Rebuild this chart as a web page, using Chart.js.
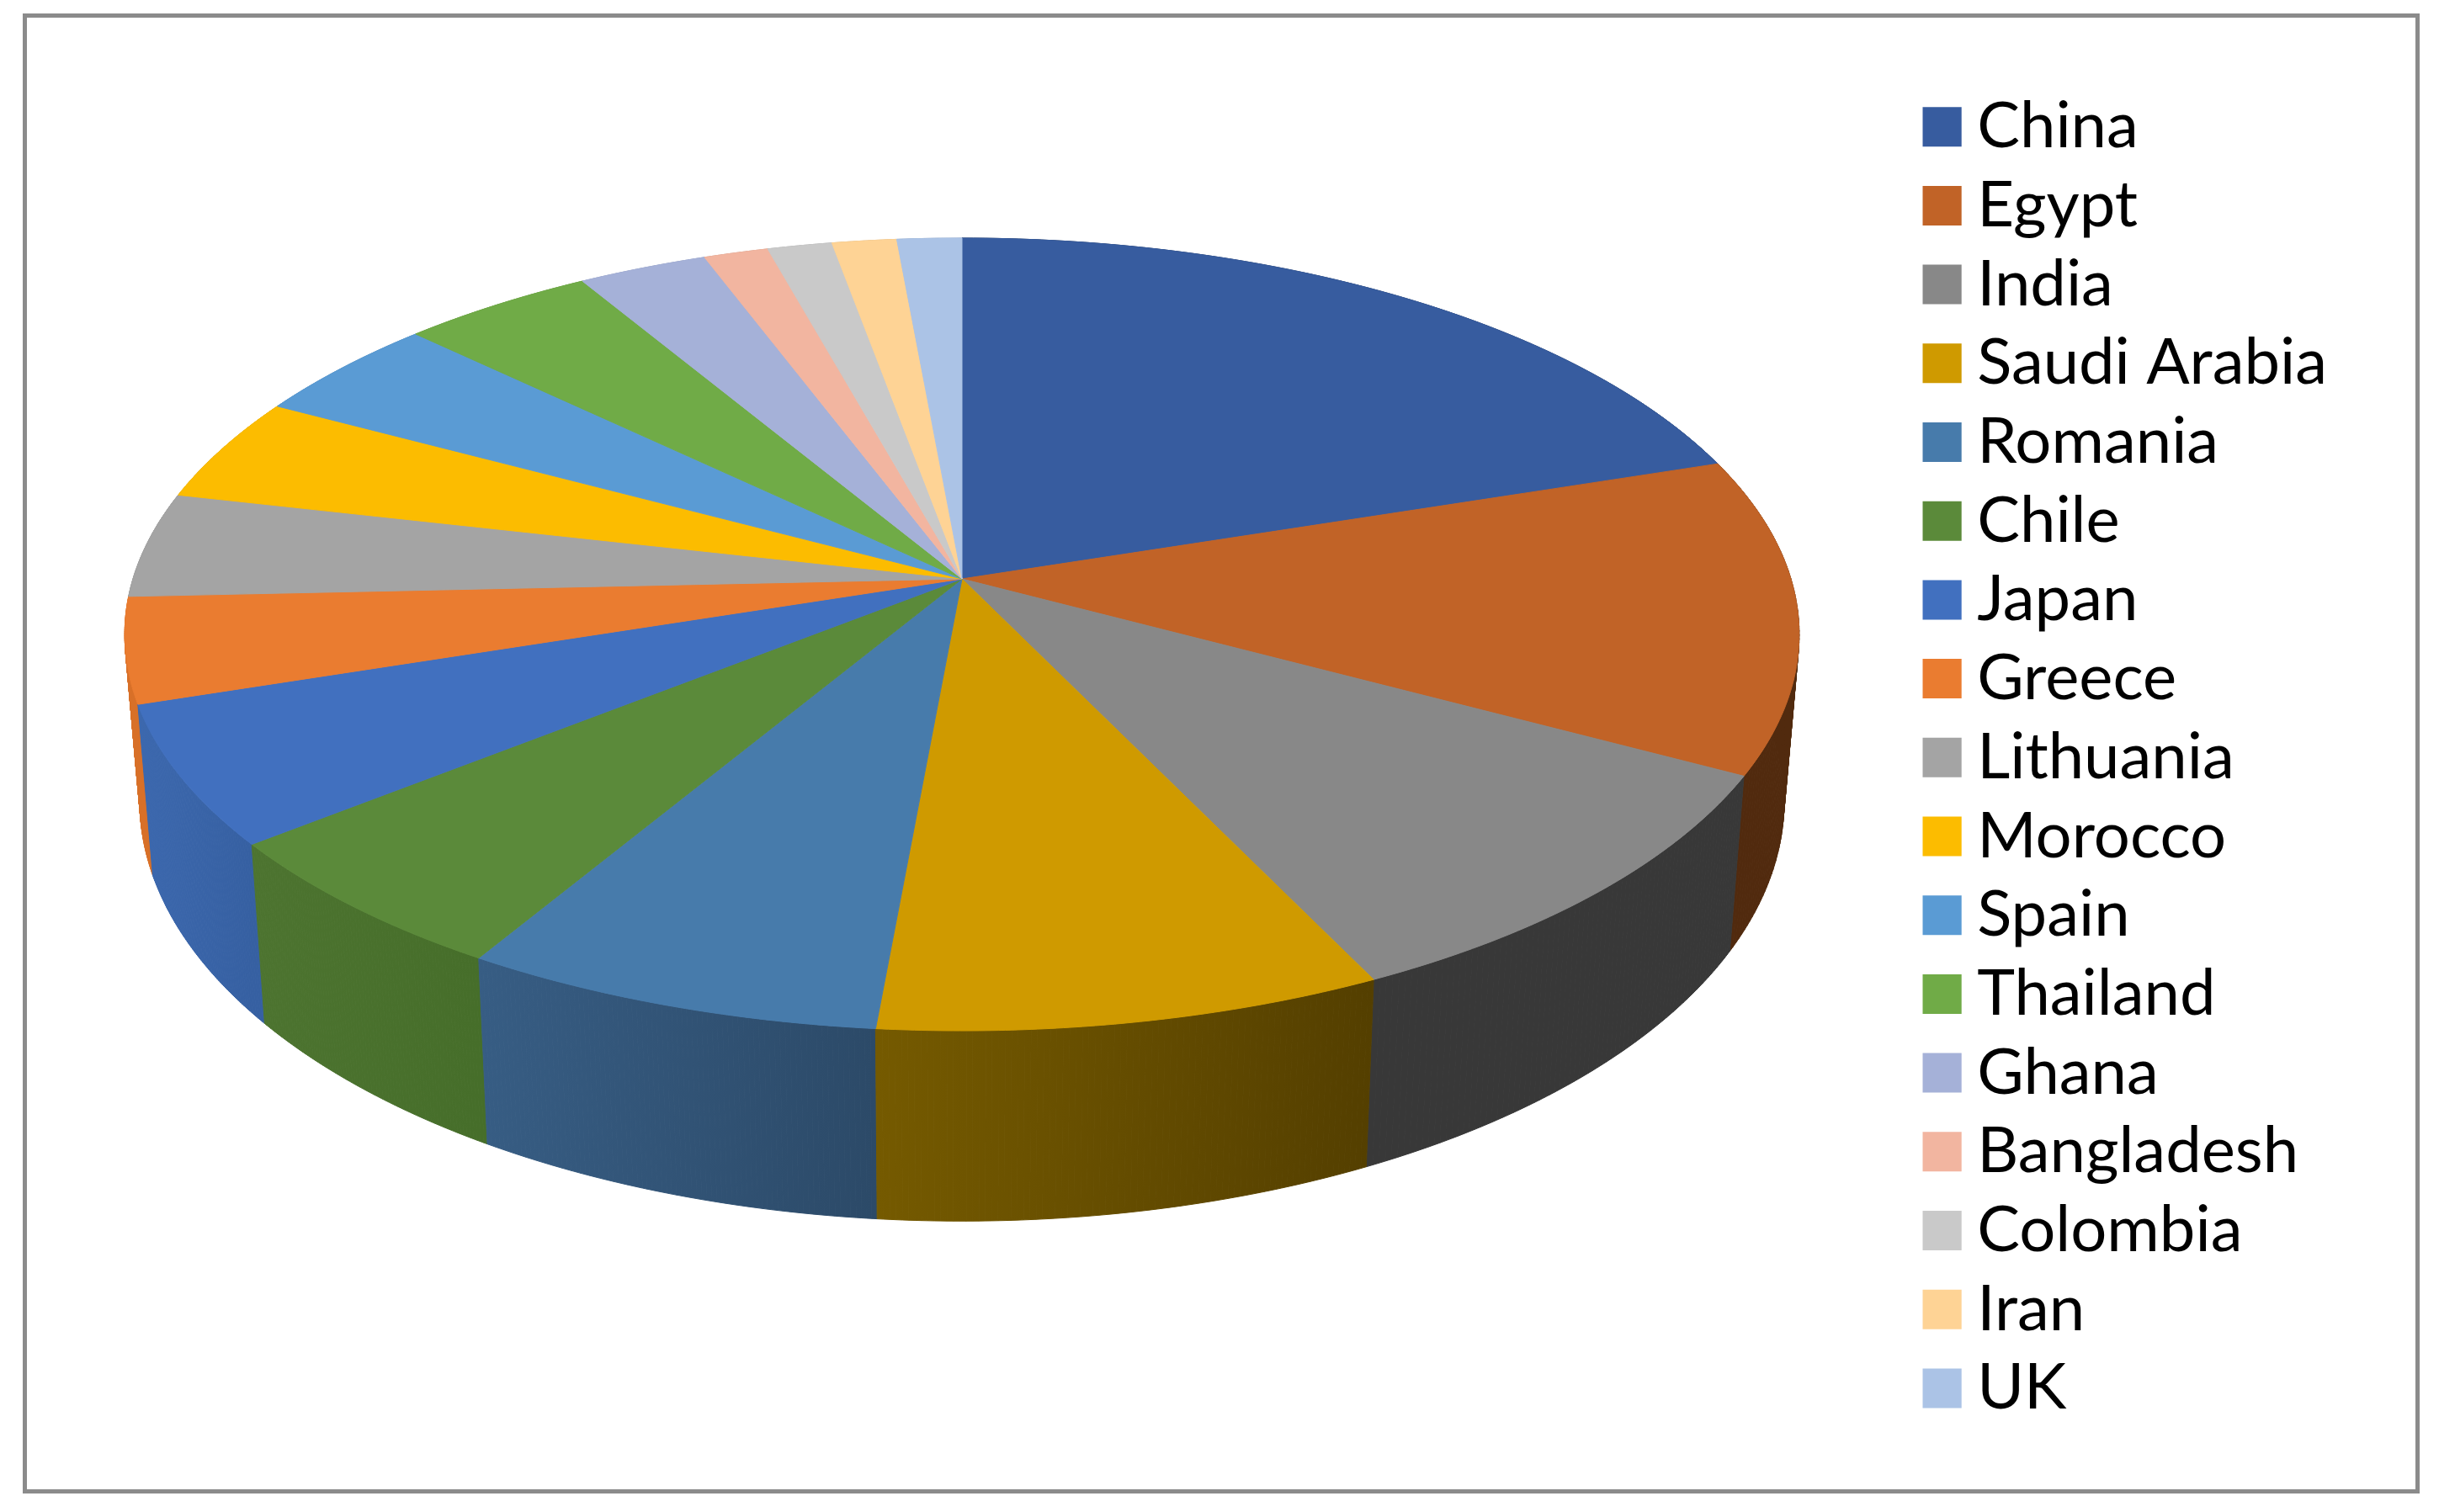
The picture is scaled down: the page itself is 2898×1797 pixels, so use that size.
<!DOCTYPE html>
<html lang="en">
<head>
    <meta charset="UTF-8">
    <title>Countries pie</title>
    <script src="https://cdn.jsdelivr.net/npm/chart.js"></script>
    <style>
        body { margin: 0; background: #fff; }
        #frame {
            position: absolute; left: 27px; top: 16px;
            width: 2848px; height: 1759px; box-sizing: border-box;
            border: 5px solid #8b8b8b;
        }
        canvas { position: absolute; left: 0; top: 0; }
    </style>
</head>
<body>
    <div id="frame"></div>
    <canvas id="pie" width="2898" height="1797"></canvas>
    <script>
        const countries = ['China', 'Egypt', 'India', 'Saudi Arabia', 'Romania', 'Chile', 'Japan', 'Greece',
            'Lithuania', 'Morocco', 'Spain', 'Thailand', 'Ghana', 'Bangladesh', 'Colombia', 'Iran', 'UK'];
        const counts = [14, 9, 7, 6, 5, 4, 4, 3, 3, 3, 3, 3, 2, 1, 1, 1, 1];
        const topColors = ['#375c9f', '#c16327', '#888888', '#cf9a00', '#477bab', '#5b8a3a', '#4170bf', '#ea7c30',
            '#a4a4a4', '#fcbc00', '#5a9bd4', '#70ab47', '#a5b1d8', '#f2b5a0', '#c9c9c9', '#fed395', '#abc3e6'];
        // side wall shading, left and right end of each slice (back slices never show)
        const wallLeft = ['#1d3153', '#512a0e', '#383838', '#755a00', '#375d84', '#4d7430', '#3c68ae', '#d87028',
            '#8c8c8c', '#d6a000', '#4c84b4', '#5f913c', '#8c96b8', '#cd9a88', '#ababab', '#d8b37f', '#91a6c4'];
        const wallRight = ['#1d3153', '#512a0e', '#383838', '#543f00', '#2c4a68', '#466e2a', '#3660a2', '#d87028',
            '#8c8c8c', '#d6a000', '#4c84b4', '#5f913c', '#8c96b8', '#cd9a88', '#ababab', '#d8b37f', '#91a6c4'];

        // perspective of the disc, fitted to the picture
        const cx = 1143, cy = 688, rx = 985, ry = 461.8, tilt = 0.1401;
        const wallDrop = 194, wallScaleX = 0.982, wallScaleY = 1.06;

        function topPoint(angle) {
            const u = Math.cos(angle), v = Math.sin(angle);
            const w = 1 - tilt * v;
            return [cx + rx * u / w, cy + ry * v / w];
        }
        function bottomPoint(angle) {
            const p = topPoint(angle);
            return [cx + (p[0] - cx) * wallScaleX, cy + wallDrop + (p[1] - cy) * wallScaleY];
        }
        function rim(arc, pointAt) {
            const steps = 80, pts = [];
            for (let i = 0; i <= steps; i++) {
                pts.push(pointAt(arc.startAngle + (arc.endAngle - arc.startAngle) * i / steps));
            }
            return pts;
        }
        function trace(ctx, pts) {
            ctx.beginPath();
            pts.forEach((p, i) => i ? ctx.lineTo(p[0], p[1]) : ctx.moveTo(p[0], p[1]));
            ctx.closePath();
        }

        const perspectivePie = {
            id: 'perspectivePie',
            beforeDatasetsDraw(chart) {
                const ctx = chart.ctx;
                const arcs = chart.getDatasetMeta(0).data;
                ctx.save();
                ctx.lineJoin = 'round';
                ctx.lineWidth = 1;

                // walls first, back to front, the top face covers what is hidden
                const order = arcs.map((a, i) => i).sort((a, b) =>
                    Math.sin((arcs[a].startAngle + arcs[a].endAngle) / 2) - Math.sin((arcs[b].startAngle + arcs[b].endAngle) / 2));
                order.forEach(i => {
                    const upper = rim(arcs[i], topPoint);
                    const lower = rim(arcs[i], bottomPoint);
                    const xs = upper.map(p => p[0]);
                    const grad = ctx.createLinearGradient(Math.min(...xs), 0, Math.max(...xs), 0);
                    grad.addColorStop(0, wallLeft[i]);
                    grad.addColorStop(1, wallRight[i]);
                    ctx.fillStyle = grad;
                    ctx.strokeStyle = grad;
                    // one strip at a time, a single path cancels itself where the wall turns at the silhouette
                    for (let j = 0; j < upper.length - 1; j++) {
                        trace(ctx, [upper[j], upper[j + 1], lower[j + 1], lower[j]]);
                        ctx.fill();
                        ctx.stroke();
                    }
                });

                arcs.forEach((arc, i) => {
                    trace(ctx, [[cx, cy]].concat(rim(arc, topPoint)));
                    ctx.fillStyle = topColors[i];
                    ctx.strokeStyle = topColors[i];
                    ctx.fill();
                    ctx.stroke();
                });
                ctx.restore();
                return false;
            }
        };

        new Chart(document.getElementById('pie').getContext('2d'), {
            type: 'pie',
            data: {
                labels: countries,
                datasets: [{ data: counts, backgroundColor: topColors, borderWidth: 0 }]
            },
            plugins: [perspectivePie],
            options: {
                responsive: false,
                animation: false,
                layout: { padding: { top: 95, right: 123 } },
                plugins: {
                    tooltip: { enabled: false },
                    legend: {
                        position: 'right',
                        align: 'start',
                        labels: {
                            color: '#000',
                            font: { family: 'Lato', size: 76 },
                            boxWidth: 9,
                            boxHeight: 8,
                            padding: 17.7,
                            generateLabels(chart) {
                                // fat outline so the swatch sits closer to its text than the default gap
                                return Chart.overrides.pie.plugins.legend.labels.generateLabels(chart).map(item => {
                                    item.strokeStyle = item.fillStyle;
                                    item.lineWidth = 39;
                                    return item;
                                });
                            }
                        }
                    }
                }
            }
        });
    </script>
</body>
</html>
